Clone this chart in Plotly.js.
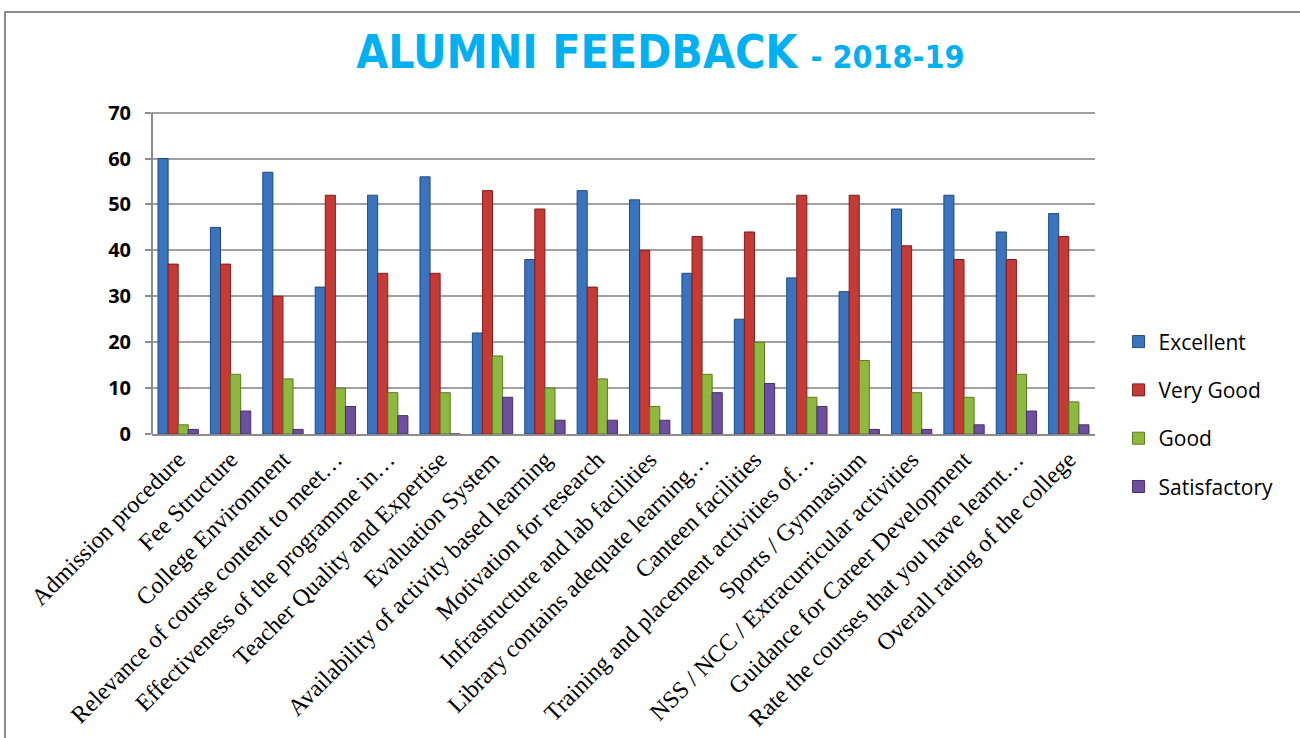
<!DOCTYPE html>
<html><head><meta charset="utf-8">
<script src="https://cdn.plot.ly/plotly-3.0.1.min.js"></script>
<style>
html,body{margin:0;padding:0;background:#fff;overflow:hidden;}
#frame{position:absolute;left:4px;top:11px;width:1400px;height:800px;border:2px solid #8c8c8c;pointer-events:none;}
#chart{position:absolute;left:0;top:0;width:1300px;height:738px;}
</style></head>
<body>
<div id="chart"></div>
<div id="frame"></div>
<script>
const categories = [
  "Admission procedure","Fee Structure","College Environment","Relevance of course content to meet…",
  "Effectiveness of the programme in…","Teacher Quality and Expertise","Evaluation System",
  "Availability of activity based learning","Motivation for research","Infrastructure and lab facilities",
  "Library contains adequate learning…","Canteen facilities","Training and placement activities of…",
  "Sports / Gymnasium","NSS / NCC / Extracurricular activities","Guidance for Career Development",
  "Rate the courses that you have learnt…","Overall rating of the college"
];
const excellent    = [60,45,57,32,52,56,22,38,53,51,35,25,34,31,49,52,44,48];
const veryGood     = [37,37,30,52,35,35,53,49,32,40,43,44,52,52,41,38,38,43];
const good         = [2,13,12,10,9,9,17,10,12,6,13,20,8,16,9,8,13,7];
const satisfactory = [1,5,1,6,4,0,8,3,3,3,9,11,6,1,1,2,5,2];
const seriesNames = ["Excellent","Very Good","Good","Satisfactory"];
const yTicks = [0,10,20,30,40,50,60,70];

const colors = ["#3A74BE","#C63A36","#8FB93E","#6E4E9E"];
const lines  = ["#1F4A80","#7E1E1B","#5A7A22","#43306A"];
const vals = [excellent, veryGood, good, satisfactory];

const traces = vals.map((v,i)=>({
  type:'bar', x:categories, y:v, name:seriesNames[i], legendgroup:'g'+i,
  marker:{color:colors[i], line:{color:lines[i], width:1}},
  hoverinfo:'y+name'
}));

const layout = {
  width:1300, height:738,
  paper_bgcolor:'#fff', plot_bgcolor:'#fff',
  margin:{l:152, r:205, t:108, b:304},
  title:{
    text:"<b>ALUMNI FEEDBACK</b> <b><span style='font-size:32px'>- 2018-19</span></b>",
    font:{family:"DejaVu Sans Condensed", size:46, color:"#00B0F0"},
    x:0.508, xanchor:'center', y:0.93, yanchor:'middle'
  },
  barmode:'group', bargap:0.23, bargroupgap:0,
  xaxis:{
    tickangle:-45, tickfont:{family:"Liberation Serif", size:24, color:'#000'},
    showline:true, linecolor:'#8c8c8c', linewidth:2, showgrid:false,
    ticks:'', automargin:false
  },
  yaxis:{
    range:[0,71], tickvals:yTicks, ticktext:yTicks.map(String),
    tickfont:{family:"Open Sans", size:20, color:'#000', weight:'bold'},
    showgrid:true, gridcolor:'#a0a0a0', gridwidth:2,
    showline:false,
    ticks:'outside', ticklen:6, tickcolor:'#8c8c8c', tickwidth:2,
    ticklabelstandoff:10, zeroline:false, automargin:false
  },
  shapes:[{type:'line', xref:'paper', yref:'y', x0:0, x1:0, y0:0, y1:70, line:{color:'#8c8c8c', width:2}}],
  legend:{
    x:1.025, xanchor:'left', y:0.06, yanchor:'middle',
    font:{family:"Open Sans", size:21, color:'#000'},
    tracegroupgap:18, traceorder:'grouped', itemwidth:30
  },
  showlegend:true
};
Plotly.newPlot('chart', traces, layout, {displayModeBar:false, staticPlot:true});
</script>
</body></html>
